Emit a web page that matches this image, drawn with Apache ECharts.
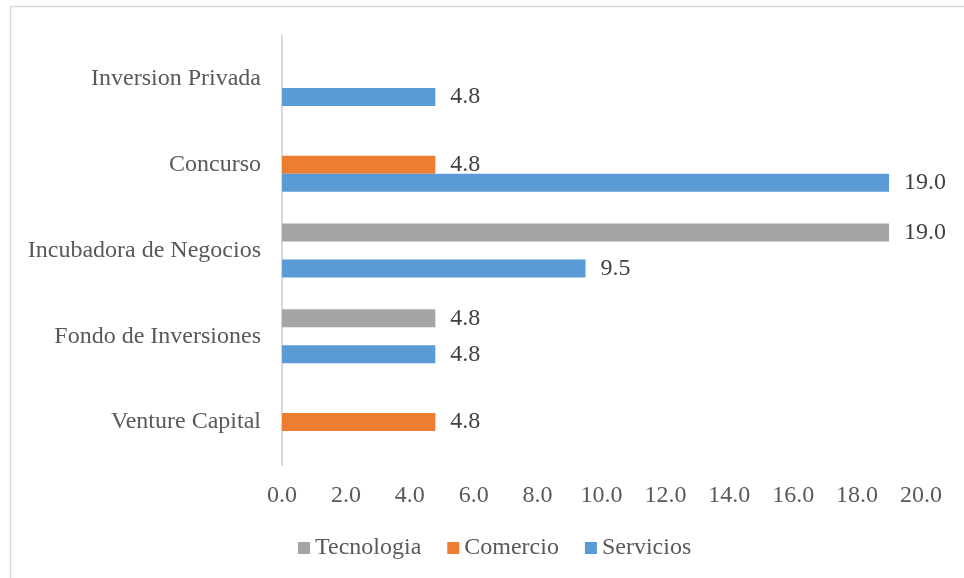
<!DOCTYPE html>
<html>
<head>
<meta charset="utf-8">
<script src="https://cdn.jsdelivr.net/npm/echarts@6/dist/echarts.min.js"></script>
<style>html,body{margin:0;padding:0;background:#fff;}#c{width:964px;height:578px;}</style>
</head>
<body>
<div id="c"></div>
<script>
var categories = ['Venture Capital', 'Fondo de Inversiones', 'Incubadora de Negocios', 'Concurso', 'Inversion Privada'];
var servicios = [null, 4.8, 9.5, 19.0, 4.8];
var comercio = [4.8, null, null, 4.8, null];
var tecnologia = [null, 4.8, 19.0, null, null];
var xTicks = { min: 0, max: 20, interval: 2 };

var FONT = '"Liberation Serif", "Times New Roman", serif';
var TXT = '#595959';
var chart = echarts.init(document.getElementById('c'));
function lbl() {
  return { show: true, position: 'right', distance: 15, color: '#404040', fontFamily: FONT, fontSize: 24,
    formatter: function (p) { return p.value == null ? '' : Number(p.value).toFixed(1); } };
}
chart.setOption({
  animation: false,
  graphic: [{ type: 'rect', shape: { x: 10.5, y: 6.5, width: 970, height: 590 }, style: { fill: 'none', stroke: '#d9d9d9', lineWidth: 1.5 } }],
  grid: { left: 282, right: 43, top: 36, bottom: 113 },
  legend: {
    bottom: 13, left: 293, itemWidth: 12, itemHeight: 12, itemGap: 26, icon: 'rect',
    data: ['Tecnologia', 'Comercio', 'Servicios'],
    textStyle: { color: TXT, fontFamily: FONT, fontSize: 24 }
  },
  xAxis: {
    type: 'value', min: xTicks.min, max: xTicks.max, interval: xTicks.interval,
    axisLine: { show: false }, axisTick: { show: false }, splitLine: { show: false },
    axisLabel: { color: TXT, fontFamily: FONT, fontSize: 24, margin: 19, formatter: function (v) { return v.toFixed(1); } }
  },
  yAxis: {
    type: 'category', data: categories,
    axisLine: { show: true, lineStyle: { color: '#d9d9d9', width: 2 } }, axisTick: { show: false },
    axisLabel: { color: TXT, fontFamily: FONT, fontSize: 24, margin: 21, padding: [4, 0, 0, 0] }
  },
  series: [
    { name: 'Tecnologia', type: 'bar', data: tecnologia, barWidth: 18, barGap: '0%', itemStyle: { color: '#a5a5a5' }, label: lbl(), z: 2 },
    { name: 'Comercio', type: 'bar', data: comercio, barWidth: 18, barGap: '0%', itemStyle: { color: '#ed7d31' }, label: lbl(), z: 2 },
    { name: 'Servicios', type: 'bar', data: servicios, barWidth: 18, barGap: '0%', itemStyle: { color: '#5b9bd5' }, label: lbl(), z: 3 }
  ]
});
</script>
</body>
</html>
